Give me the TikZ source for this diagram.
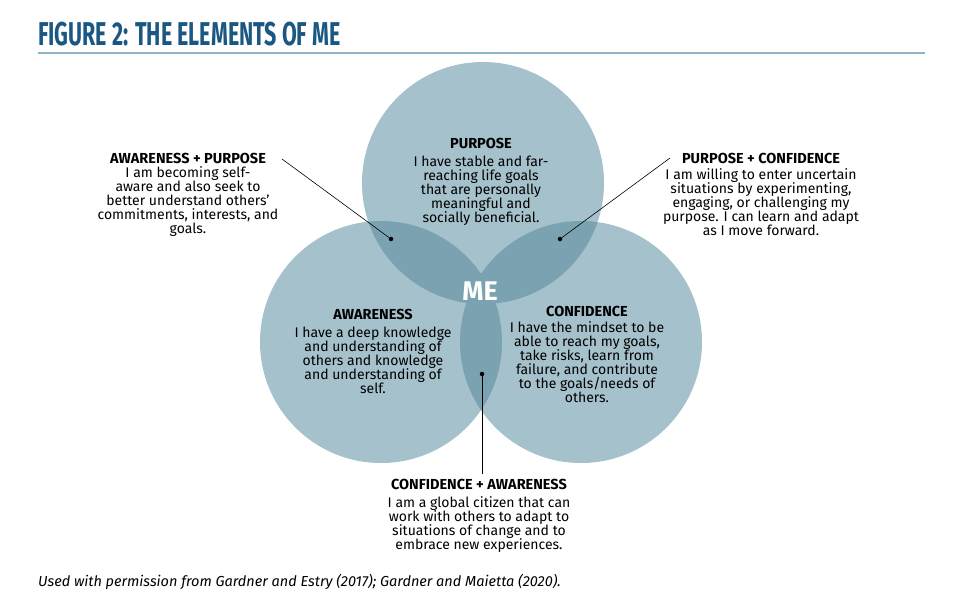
\documentclass[tikz,border=0pt]{standalone}
\usepackage{fontspec}
\setmainfont{Fira Sans}
\newfontfamily\titlefont[FakeStretch=0.65]{Fira Sans}
\usetikzlibrary{positioning}
\definecolor{EleLight}{HTML}{A5C1CB}
\definecolor{EleDark}{HTML}{7AA2B0}
\definecolor{TitleBlue}{HTML}{1A5883}
\definecolor{TitleRule}{HTML}{8DB5C7}

\begin{document}
\begin{tikzpicture}[
  x=1pt,y=-1pt,
  head/.style={font=\fontsize{14.5}{14.5}\selectfont\bfseries,inner sep=0pt},
  body/.style={font=\fontsize{14}{14}\selectfont,align=center,inner sep=0pt},
  pin/.style={black,line width=0.6pt},
  dot/.style={circle,fill=black,inner sep=0pt,minimum size=4.5pt}
]
  \useasboundingbox (0,0) rectangle (961,600);

  % title and rule
  \node[anchor=base west,inner sep=0pt,text=TitleBlue,
        font=\titlefont\bfseries\fontsize{33}{33}\selectfont] (title) at (38,45) {FIGURE 2: THE ELEMENTS OF ME};
  \draw[TitleRule,line width=1.5pt] (38,53) -- (925,53);

  % the three circles
  \coordinate (P) at (483,183);
  \coordinate (A) at (381,342);
  \coordinate (C) at (581,342);
  \foreach \c in {P,A,C}
    \fill[EleLight] (\c) circle[radius=121pt];
  \begin{scope}
    \clip (P) circle[radius=121pt];
    \fill[EleDark] (A) circle[radius=121pt];
    \fill[EleDark] (C) circle[radius=121pt];
  \end{scope}
  \begin{scope}
    \clip (A) circle[radius=121pt];
    \fill[EleDark] (C) circle[radius=121pt];
  \end{scope}

  \node[text=white,inner sep=0pt,font=\bfseries\fontsize{27}{27}\selectfont] (me) at (480,291) {ME};

  % circle texts
  \node[head] (purpose) at (481,143) {PURPOSE};
  \node[body, below=7pt of purpose] (purposetxt) {I have stable and far-\\reaching life goals\\that are personally\\meaningful and\\socially beneficial.};
  \node[head] (aware) at (373,314) {AWARENESS};
  \node[body, below=7pt of aware] (awaretxt) {I have a deep knowledge\\and understanding of\\others and knowledge\\and understanding of\\self.};
  \node[head] (conf) at (587,311) {CONFIDENCE};
  \node[body, below=5pt of conf] (conftxt) {I have the mindset to be\\able to reach my goals,\\take risks, learn from\\failure, and contribute\\to the goals/needs of\\others.};

  % overlap texts
  \node[head] (aphead) at (188,158) {AWARENESS + PURPOSE};
  \node[body, below=3pt of aphead] (aptxt) {I am becoming self-\\aware and also seek to\\better understand others'\\commitments, interests, and\\goals.};
  \node[head] (pchead) at (761,158) {PURPOSE + CONFIDENCE};
  \node[body, below=5pt of pchead] (pctxt) {I am willing to enter uncertain\\situations by experimenting,\\engaging, or challenging my\\purpose. I can learn and adapt\\as I move forward.};
  \node[head] (cahead) at (479,484) {CONFIDENCE + AWARENESS};
  \node[body, below=7pt of cahead] (catxt) {I am a global citizen that can\\work with others to adapt to\\situations of change and to\\embrace new experiences.};

  % pointers
  \node[dot] (apdot) at (391,239) {};
  \node[dot] (pcdot) at (560,239) {};
  \node[dot] (cadot) at (482,374) {};
  \coordinate (apend) at (282,159);
  \coordinate (pcend) at (670,158);
  \coordinate (caend) at (482,474);
  \draw[pin] (apdot) -- (apend);
  \draw[pin] (pcdot) -- (pcend);
  \draw[pin] (cadot) -- (caend);

  \node[anchor=base west,inner sep=0pt,font=\itshape\fontsize{14.5}{14.5}\selectfont] (source) at (38,586)
    {Used with permission from Gardner and Estry (2017); Gardner and Maietta (2020).};
\end{tikzpicture}
\end{document}
